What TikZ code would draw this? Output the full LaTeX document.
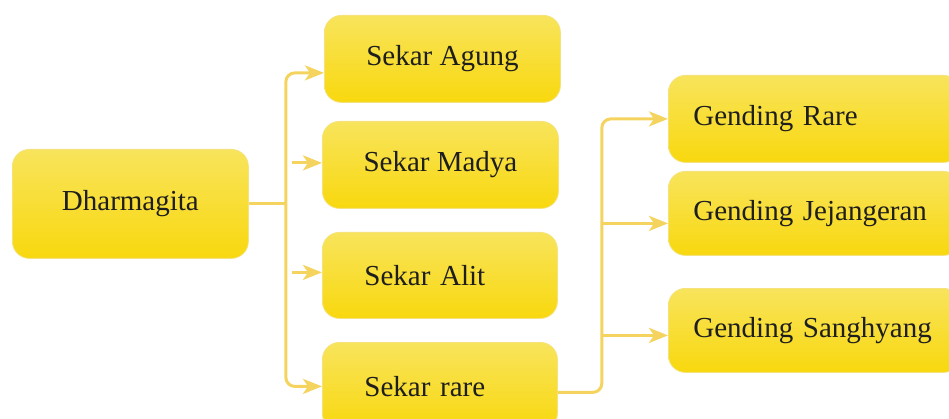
\documentclass[tikz,border=0pt]{standalone}
\usepackage{fontspec}
\setmainfont{Liberation Serif}
\usetikzlibrary{arrows.meta,positioning,calc}
\definecolor{boxtop}{HTML}{F8E45C}
\definecolor{boxmid}{HTML}{FAE60C}
\definecolor{boxbot}{HTML}{F8D80E}
\definecolor{boxedge}{HTML}{F6E27C}
\definecolor{linkcol}{HTML}{F4D45E}
\definecolor{ink}{HTML}{1E1E1E}
\tikzset{
  yelbox/.style={draw=boxedge,line width=0.8pt,rounded corners=17pt,
                 top color=boxtop,middle color=boxmid,bottom color=boxbot,
                 minimum height=#1,anchor=north west,inner sep=0pt,
                 font=\fontsize{29}{34}\selectfont,text=ink},
  yelbox/.default=87pt,
  sekar/.style={yelbox=#1,minimum width=236pt,align=center},
  sekar/.default=87pt,
  sekarleft/.style={yelbox=#1,text width=151pt,inner xsep=42pt,align=left},
  sekarleft/.default=87pt,
  gending/.style={yelbox=#1,text width=242pt,inner xsep=25pt,align=left},
  gending/.default=84pt,
  link/.style={draw=linkcol,line width=3pt},
  arr/.style={link,-{Stealth[length=19pt,width=15pt,inset=5pt]}}
}

\begin{document}
\begin{tikzpicture}[x=1pt,y=-1pt]
  \useasboundingbox (0,0) rectangle (949,419);
  \clip (0,0) rectangle (949,419);

  % boxes
  \node[sekar=109pt] (dharma) at (12,149) {Dharmagita};
  \node[sekar] (agung) at (324,15) {Sekar Agung};
  \node[sekar] (madya) at (322,121) {Sekar Madya};
  \node[sekarleft=86pt] (alit) at (322,232) {Sekar Alit};
  \node[sekarleft=88pt] (rare) at (322,342) {Sekar rare};
  \node[gending=87pt] (grare) at (668,75) {Gending Rare};
  \node[gending] (gjej) at (668,171) {Gending Jejangeran};
  \node[gending] (gsang) at (668,288) {Gending Sanghyang};

  % left fork
  \coordinate (fork) at ($(dharma.east)+(37,0)$);
  \draw[link] (dharma.east) -- (fork);
  \draw[arr,rounded corners=9pt] (fork) |- ($(agung.west)+(0,14)$);
  \draw[arr,rounded corners=9pt] (fork) |- (rare.west);
  \draw[arr] ($(fork |- madya.west)+(6,-2)$) -- ($(madya.west)+(0,-2)$);
  \draw[arr] ($(fork |- alit.west)+(6,-3)$) -- ($(alit.west)+(0,-3)$);

  % right fork
  \coordinate (low) at ($(rare.east)+(0,6)$);
  \coordinate (fork2) at ($(low)+(44,0)$);
  \draw[arr,rounded corners=9pt] (low) -- (fork2) |- (grare.west);
  \draw[arr] ($(fork2 |- gjej.west)+(0,10)$) -- ($(gjej.west)+(0,10)$);
  \draw[arr] ($(fork2 |- gsang.west)+(0,5)$) -- ($(gsang.west)+(0,5)$);
\end{tikzpicture}
\end{document}
